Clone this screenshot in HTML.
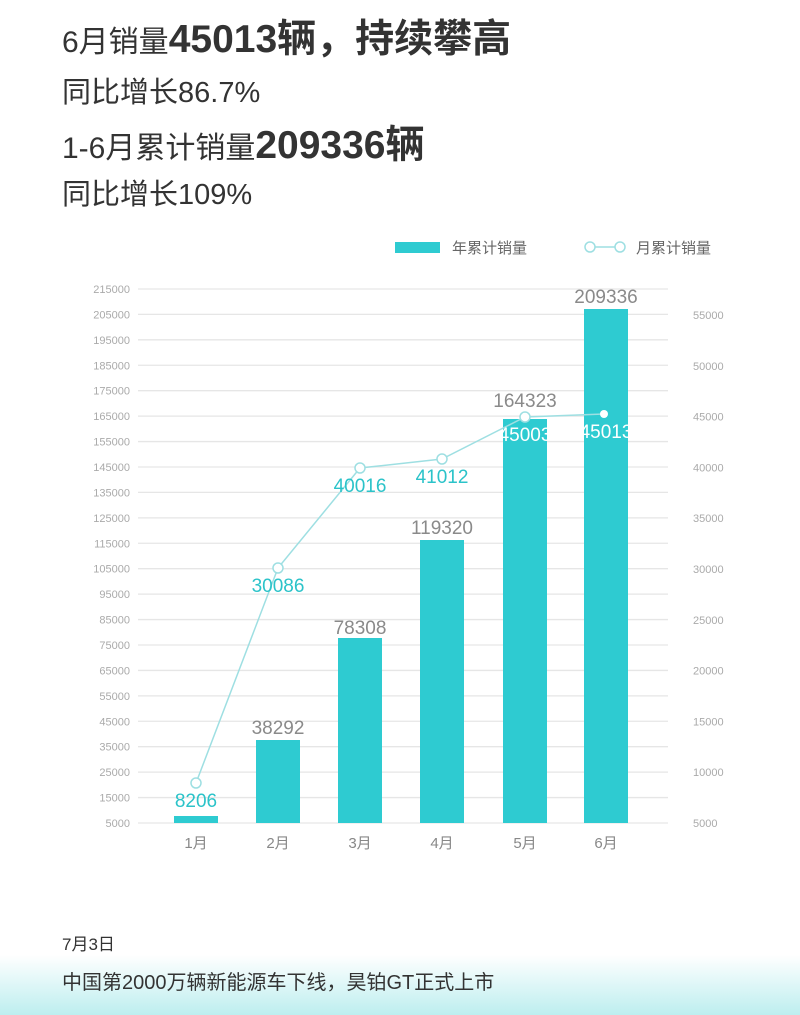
<!DOCTYPE html><html><head><meta charset="utf-8"><style>
body{margin:0;width:800px;height:1015px;background:#fff;font-family:"Liberation Sans","Noto Sans CJK SC",sans-serif;color:#333;position:relative;overflow:hidden}
.t{position:absolute;left:62px;white-space:nowrap}
.bg{position:absolute;left:0;top:955px;width:800px;height:60px;background:linear-gradient(#fff,#bdeeef)}
</style></head><body>
<div class="bg"></div>
<div class="t" style="top:8px;font-size:30px">6月销量<b style="font-size:39px">45013辆，持续攀高</b></div>
<div class="t" style="top:69px;font-size:29px">同比增长86.7%</div>
<div class="t" style="top:114px;font-size:30px">1-6月累计销量<b style="font-size:39px">209336辆</b></div>
<div class="t" style="top:171px;font-size:29px">同比增长109%</div>
<div class="t" style="top:930px;font-size:17px">7月3日</div>
<div class="t" style="top:966px;font-size:20px">中国第2000万辆新能源车下线，昊铂GT正式上市</div>
<svg width="800" height="1015" style="position:absolute;left:0;top:0" font-family="Liberation Sans,Noto Sans CJK SC,sans-serif">
<rect x="395" y="242" width="45" height="11" fill="#2ecbd1"/>
<text x="452" y="253" font-size="15" fill="#666">年累计销量</text>
<line x1="590" y1="247" x2="620" y2="247" stroke="#9edfe2" stroke-width="1.5"/>
<circle cx="590" cy="247" r="5" fill="#fff" stroke="#9edfe2" stroke-width="1.5"/><circle cx="620" cy="247" r="5" fill="#fff" stroke="#9edfe2" stroke-width="1.5"/>
<text x="636" y="253" font-size="15" fill="#666">月累计销量</text>
<g id="grid" stroke="#e6e6e6" stroke-width="1.3"></g>
<g id="lt" font-size="11" fill="#aaa" text-anchor="end"></g>
<g id="rt" font-size="11" fill="#aaa"></g>
<g fill="#2ecbd1">
<rect x="174" y="816" width="44" height="7"/><rect x="256" y="740" width="44" height="83"/><rect x="338" y="638" width="44" height="185"/>
<rect x="420" y="540" width="44" height="283"/><rect x="503" y="419" width="44" height="404"/><rect x="584" y="309" width="44" height="514"/>
</g>
<g font-size="19" fill="#8a8a8a" text-anchor="middle">
<text x="278" y="734">38292</text><text x="360" y="634">78308</text><text x="442" y="534">119320</text><text x="525" y="407">164323</text><text x="606" y="303">209336</text>
</g>
<polyline points="196,783 278,568 360,468 442,459 525,417 604,414" fill="none" stroke="#9edfe2" stroke-width="1.5"/>
<g fill="#fff" stroke="#9edfe2" stroke-width="1.5">
<circle cx="196" cy="783" r="5"/><circle cx="278" cy="568" r="5"/><circle cx="360" cy="468" r="5"/><circle cx="442" cy="459" r="5"/><circle cx="525" cy="417" r="5"/>
</g><circle cx="604" cy="414" r="4" fill="#fff"/>
<g font-size="19" fill="#2bc3c9" text-anchor="middle">
<text x="196" y="807">8206</text><text x="278" y="592">30086</text><text x="360" y="492">40016</text><text x="442" y="483">41012</text>
<text x="525" y="441" fill="#fff">45003</text><text x="606" y="438" fill="#fff">45013</text>
</g>
<g font-size="15" fill="#888" text-anchor="middle">
<text x="196" y="848">1月</text><text x="278" y="848">2月</text><text x="360" y="848">3月</text><text x="442" y="848">4月</text><text x="525" y="848">5月</text><text x="606" y="848">6月</text>
</g>
</svg>
<script>
var ns="http://www.w3.org/2000/svg",g=document.getElementById('grid'),lt=document.getElementById('lt'),rt=document.getElementById('rt');
for(var i=0;i<22;i++){var y=823-i*25.43;var l=document.createElementNS(ns,'line');l.setAttribute('x1',138);l.setAttribute('x2',668);l.setAttribute('y1',y);l.setAttribute('y2',y);g.appendChild(l);
var t=document.createElementNS(ns,'text');t.setAttribute('x',130);t.setAttribute('y',y+4);t.textContent=5000+i*10000;lt.appendChild(t);}
for(var j=0;j<11;j++){var y=823-j*50.8;var t=document.createElementNS(ns,'text');t.setAttribute('x',693);t.setAttribute('y',y+4);t.textContent=5000+j*5000;rt.appendChild(t);}
</script>
</body></html>
